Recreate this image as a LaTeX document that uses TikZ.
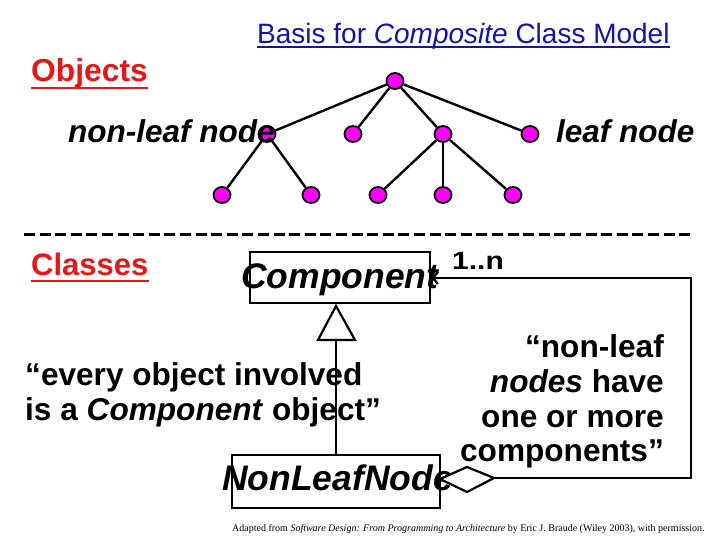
\documentclass[tikz,border=0pt]{standalone}
\usepackage{fontspec}
\setmainfont{Liberation Sans}
\newfontfamily\tms{Liberation Serif}
\usetikzlibrary{arrows.meta,shapes.geometric}
\definecolor{ttlblue}{RGB}{20,20,170}
\definecolor{hdred}{RGB}{225,25,25}
\definecolor{nodemag}{RGB}{255,0,255}
\tikzset{
  txt/.style={inner sep=0pt, anchor=base west},
  txtr/.style={inner sep=0pt, anchor=base east},
  obj/.style={ellipse, draw=black, line width=1.8pt, fill=nodemag, minimum width=17pt, minimum height=16pt, inner sep=0pt},
  edge/.style={line width=2.4pt},
  cls/.style={draw, line width=2.8pt},
  conn/.style={line width=2.3pt},
  quote/.style={font=\fontsize{31.6}{35}\bfseries},
}
\begin{document}
\begin{tikzpicture}[x=1pt,y=-1pt]
\useasboundingbox (0,0) rectangle (720,540);
% title
\node[txt, text=ttlblue, font=\fontsize{28}{30}\selectfont] (title) at (257,44) {Basis for \textit{Composite} Class Model};
\draw[ttlblue, line width=1.6pt] ([yshift=-3pt]title.base west) -- ([yshift=-3pt]title.base east);
% headings
\node[txt, text=hdred, font=\fontsize{31.8}{33}\bfseries] (objs) at (31,82) {Objects};
\draw[hdred, line width=2pt] ([yshift=-6pt]objs.base west) -- ([yshift=-6pt]objs.base east);
\node[txt, text=hdred, font=\fontsize{31}{33}\bfseries] (clss) at (31,275) {Classes};
\draw[hdred, line width=2pt] ([yshift=-6pt]clss.base west) -- ([yshift=-6pt]clss.base east);
% tree
\node[obj] (r) at (395,81) {};
\node[obj] (a1) at (267,134) {};
\node[obj] (a2) at (353,134) {};
\node[obj] (a3) at (443,134) {};
\node[obj] (a4) at (530,134) {};
\node[obj] (b1) at (222,195) {};
\node[obj] (b2) at (311,195) {};
\node[obj] (b3) at (378,195) {};
\node[obj] (b4) at (443,195) {};
\node[obj] (b5) at (513,195) {};
\foreach \u/\v in {r/a1,r/a2,r/a3,r/a4,a1/b1,a1/b2,a3/b3,a3/b4,a3/b5}
  \draw[edge] (\u) -- (\v);
% labels over tree
\node[txt, font=\fontsize{31.5}{33}\bfseries\itshape] (nlab) at (68,143) {non-leaf node};
\node[txt, font=\fontsize{31.5}{33}\bfseries\itshape] (llab) at (556,143) {leaf node};
% dashed separator
\coordinate (dL) at (24,234);
\coordinate (dR) at (693,234);
\draw[line width=3pt, dash pattern=on 11pt off 4.6pt] (dL) -- (dR);
% classes
\node[cls, minimum width=180pt, minimum height=51pt, inner sep=0pt] (comp) at (340,277.5) {};
\node[txt, font=\fontsize{35.5}{37}\bfseries\itshape] (comptxt) at (241,288) {Component};
\node[txt, font=\fontsize{25}{27}\bfseries] (mult) at (452,269) {\scalebox{1.2}[1]{1..n}};
\node[cls, minimum width=208pt, minimum height=53pt, inner sep=0pt] (nln) at (336,481.5) {};
\node[txt, font=\fontsize{35.5}{37}\bfseries\itshape] (nlntxt) at (222,490) {NonLeafNode};
% generalization
\coordinate (tA) at (336,306);
\coordinate (tL) at (318,340);
\coordinate (tR) at (355,340);
\coordinate (tB) at (336,340);
\draw[line width=2.2pt, line join=miter] (tA) -- (tL) -- (tR) -- cycle;
\draw[conn] (tB) -- (nln.north);
% aggregation
\coordinate (dmL) at (440,479);
\coordinate (dmT) at (467,467);
\coordinate (dmR) at (494,478);
\coordinate (dmB) at (467,492);
\draw[line width=2.2pt, fill=white] (dmL) -- (dmT) -- (dmR) -- (dmB) -- cycle;
\coordinate (c1) at (691,478);
\coordinate (c2) at (691,278);
\draw[conn, {Straight Barb[length=5pt,width=12pt]}-] (comp.east |- c2) -- (c2) -- (c1) -- (dmR);
% quotes
\node[txt, quote] (q1a) at (25,385) {“every object involved};
\node[txt, quote] (q1b) at (25,420) {is a \textit{Component} object”};
\node[txtr, quote] (q2a) at (664,357) {“non-leaf};
\node[txtr, quote] (q2b) at (664,392) {\textit{nodes} have};
\node[txtr, quote] (q2c) at (664,427) {one or more};
\node[txtr, quote] (q2d) at (664,461) {components”};
% footer
\node[txt, font=\tms\fontsize{10}{11}\selectfont] (foot) at (232,531) {Adapted from \textit{Software Design: From Programming to Architecture} by Eric J. Braude (Wiley 2003), with permission.};
\end{tikzpicture}
\end{document}
